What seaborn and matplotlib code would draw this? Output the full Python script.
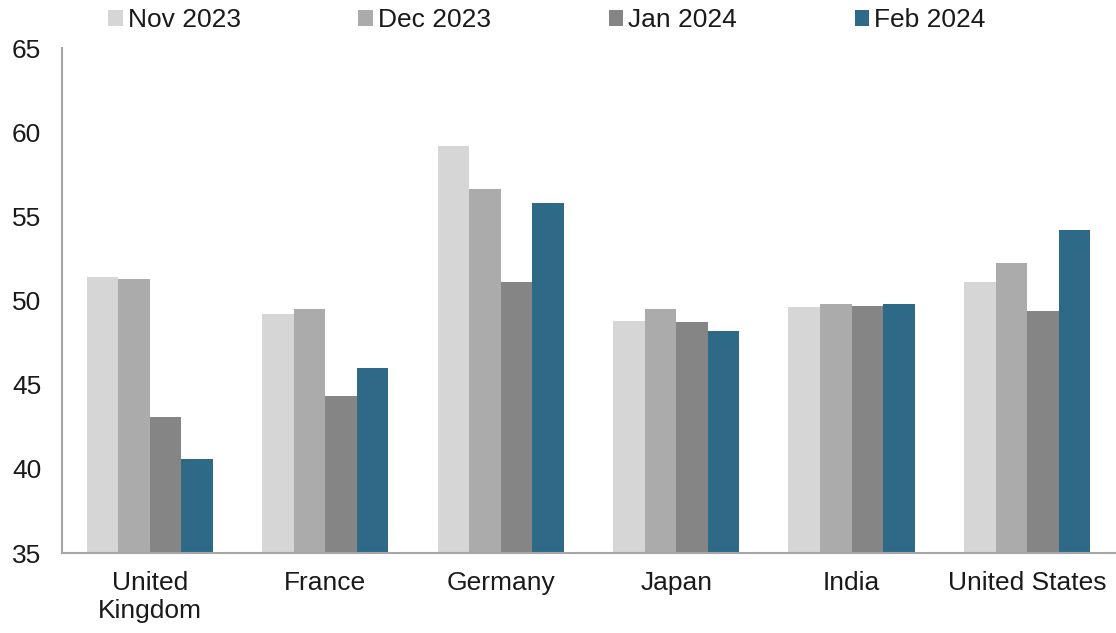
import matplotlib
matplotlib.use("Agg")
import matplotlib.pyplot as plt
import seaborn as sns
import pandas as pd

countries = ["United\nKingdom", "France", "Germany", "Japan", "India", "United States"]
months = ["Nov 2023", "Dec 2023", "Jan 2024", "Feb 2024"]
nov_2023 = [51.4, 49.2, 59.2, 48.8, 49.6, 51.1]
dec_2023 = [51.3, 49.5, 56.6, 49.5, 49.8, 52.2]
jan_2024 = [43.1, 44.3, 51.1, 48.7, 49.7, 49.4]
feb_2024 = [40.6, 46.0, 55.8, 48.2, 49.8, 54.2]
colors = ["#d6d6d6", "#ababab", "#858585", "#2e6a87"]
yticks = [35, 40, 45, 50, 55, 60, 65]

series = [nov_2023, dec_2023, jan_2024, feb_2024]
rows = []
for m, vals in zip(months, series):
    for c, v in zip(countries, vals):
        rows.append({"country": c, "month": m, "value": v})
df = pd.DataFrame(rows)

sns.set_theme(style="white")
plt.rcParams["font.family"] = ["Liberation Sans", "DejaVu Sans"]

fig = plt.figure(figsize=(11.16, 6.33), dpi=100)
ax = fig.add_axes([62 / 1116, 1 - 553 / 633, 1 - 62 / 1116 - 0.001, (553 - 48) / 633])

sns.barplot(data=df, x="country", y="value", hue="month", order=countries,
            hue_order=months, palette=colors, width=0.72, gap=0,
            saturation=1, ax=ax, legend=True, linewidth=0, edgecolor="none")

ax.set_ylim(35, 65)
ax.set_xlim(-0.5, 5.5)
ax.set_yticks(yticks)
ax.set_yticklabels([str(t) for t in yticks])
ax.set_xlabel("")
ax.set_ylabel("")
ax.tick_params(axis="both", length=0, labelsize=19, colors="#1a1a1a")
ax.tick_params(axis="y", pad=15)
ax.tick_params(axis="x", pad=13)
for s in ["top", "right"]:
    ax.spines[s].set_visible(False)
for s in ["left", "bottom"]:
    ax.spines[s].set_color("#a6a6a6")
    ax.spines[s].set_linewidth(1.5)

handles, labels = ax.get_legend_handles_labels()
ax.get_legend().remove()
fig.legend(handles, labels, loc="upper center", bbox_to_anchor=(547 / 1116, 1.025),
           ncol=4, frameon=False, fontsize=19, handlelength=0.55, handleheight=0.55,
           handletextpad=0.2, columnspacing=4.45, labelcolor="#1a1a1a")

fig.savefig("out.png", dpi=100)
